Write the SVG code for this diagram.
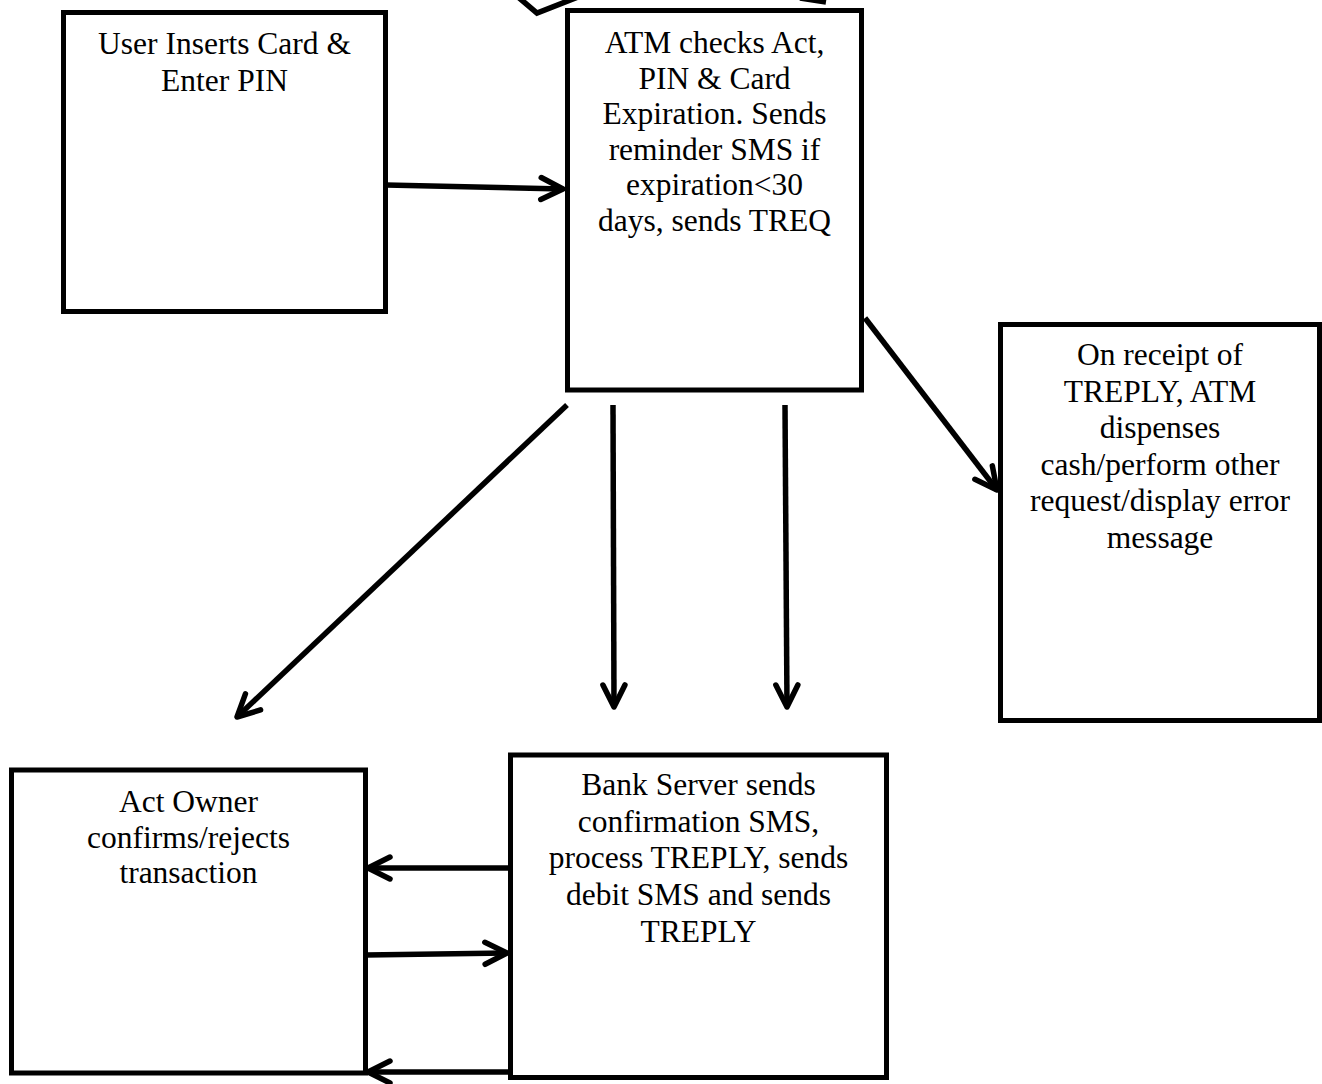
<svg xmlns="http://www.w3.org/2000/svg" width="1322" height="1084" viewBox="0 0 1322 1084">
<style>
.box{fill:#fff;stroke:#000;stroke-width:5}
.lbl{font-family:"Liberation Serif","Times New Roman",serif;font-size:31.5px;fill:#000;text-anchor:middle}
.conn{stroke:#000;stroke-width:5.5;fill:none;stroke-linecap:butt}
</style>
<defs>
<marker id="arr" markerUnits="userSpaceOnUse" viewBox="-30 -16 34 32" refX="0" refY="0" markerWidth="34" markerHeight="32" orient="auto" overflow="visible">
<path d="M -22 -11 L 0 0 L -22 11" fill="none" stroke="#000" stroke-width="5.5" stroke-linecap="round" stroke-linejoin="round"/>
</marker>
</defs>
<rect width="1322" height="1084" fill="#fff"/>
<g id="fragments">
<polyline points="518,-3 537,13 578,-3" class="conn"/>
<line x1="800" y1="-2" x2="826" y2="2" class="conn"/>
</g>
<g id="node-user">
<rect class="box" x="63.5" y="12.5" width="322" height="299"/>
<text class="lbl" x="224.5" y="54">User Inserts Card &amp;</text>
<text class="lbl" x="224.5" y="91">Enter PIN</text>
</g>
<g id="node-atm">
<rect class="box" x="567.5" y="10.5" width="294" height="379.5"/>
<text class="lbl" x="714.5" y="53">ATM checks Act,</text>
<text class="lbl" x="714.5" y="88.6">PIN &amp; Card</text>
<text class="lbl" x="714.5" y="124.2">Expiration. Sends</text>
<text class="lbl" x="714.5" y="159.8">reminder SMS if</text>
<text class="lbl" x="714.5" y="195.4">expiration&lt;30</text>
<text class="lbl" x="714.5" y="231">days, sends TREQ</text>
</g>
<g id="node-receipt">
<rect class="box" x="1000.5" y="324.5" width="319" height="396"/>
<text class="lbl" x="1160" y="365">On receipt of</text>
<text class="lbl" x="1160" y="402">TREPLY, ATM</text>
<text class="lbl" x="1160" y="438">dispenses</text>
<text class="lbl" x="1160" y="475">cash/perform other</text>
<text class="lbl" x="1160" y="511">request/display error</text>
<text class="lbl" x="1160" y="548">message</text>
</g>
<g id="node-owner">
<rect class="box" x="11.5" y="770" width="354" height="303"/>
<text class="lbl" x="188.5" y="812">Act Owner</text>
<text class="lbl" x="188.5" y="848">confirms/rejects</text>
<text class="lbl" x="188.5" y="883">transaction</text>
</g>
<g id="node-bank">
<rect class="box" x="510.5" y="755" width="376" height="322.5"/>
<text class="lbl" x="698.5" y="795">Bank Server sends</text>
<text class="lbl" x="698.5" y="832">confirmation SMS,</text>
<text class="lbl" x="698.5" y="868">process TREPLY, sends</text>
<text class="lbl" x="698.5" y="905">debit SMS and sends</text>
<text class="lbl" x="698.5" y="942">TREPLY</text>
</g>
<g id="connectors">
<line class="conn" x1="386" y1="185" x2="563" y2="189" marker-end="url(#arr)"/>
<line class="conn" x1="567" y1="405" x2="237" y2="717" marker-end="url(#arr)"/>
<line class="conn" x1="613" y1="405" x2="614" y2="707" marker-end="url(#arr)"/>
<line class="conn" x1="785" y1="405" x2="787" y2="707" marker-end="url(#arr)"/>
<line class="conn" x1="865" y1="318" x2="997" y2="490" marker-end="url(#arr)"/>
<line class="conn" x1="510" y1="868" x2="368" y2="868" marker-end="url(#arr)"/>
<line class="conn" x1="366" y1="955" x2="507" y2="953" marker-end="url(#arr)"/>
<line class="conn" x1="510" y1="1072" x2="368" y2="1072" marker-end="url(#arr)"/>
</g>
</svg>
